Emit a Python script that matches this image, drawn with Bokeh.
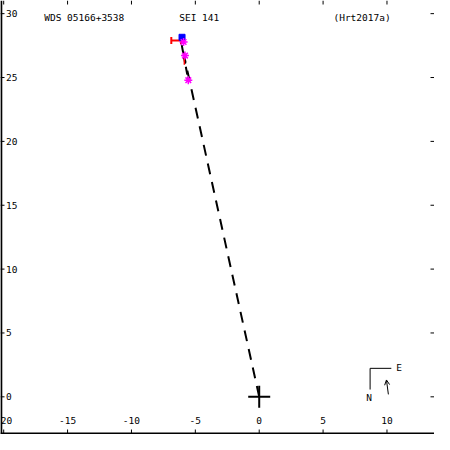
from bokeh.plotting import figure
from bokeh.models import Arrow, OpenHead
from bokeh.core.properties import value
from bokeh.embed import file_html
from bokeh.resources import INLINE

# ---- data ----
x_ticks = [-20, -15, -10, -5, 0, 5, 10]
x_tick_labels = ["-20", "-15", "-10", "-5", "0", "5", "10"]
y_ticks = [0, 5, 10, 15, 20, 25, 30]
y_tick_labels = ["0", "5", "10", "15", "20", "25", "30"]

# measured positions (arcsec)
ast_x = [-5.55, -5.81, -5.92]      # magenta asterisks
ast_y = [24.79, 26.72, 27.78]
sq_x = [-6.04]                      # blue square
sq_y = [28.15]
h_x = [-6.49]                       # red H
h_y = [27.89]
# red residual line
res_x0 = [-5.86]
res_y0 = [26.55]
res_x1 = [-5.86]
res_y1 = [26.0]
# line from primary to latest position
line_x = [0.0, -6.2]
line_y = [0.0, 28.15]
# orbit arc segment between observations
arc_x = [-6.15, -5.55]
arc_y = [28.0, 24.8]

title_left = "WDS 05166+3538"
title_mid = "SEI 141"
title_right = "(Hrt2017a)"

X0, X1 = -20.25, 13.72
Y0, Y1 = -2.95, 31.03
W = H = 434
pxx = (X1 - X0) / W
pxy = (Y1 - Y0) / H
FONT = value("DejaVu Sans Mono")
FS = "9.5px"

p = figure(width=W, height=H, x_range=(X0, X1), y_range=(Y0, Y1),
           output_backend="svg", toolbar_location=None,
           x_axis_location=None, y_axis_location=None, min_border=0)
p.grid.visible = False
p.outline_line_color = None
p.background_fill_color = "white"
p.border_fill_color = "white"

# frame lines (left, bottom)
p.segment(x0=[X0 + pxx * 0.8], y0=[Y0], x1=[X0 + pxx * 0.8], y1=[Y1],
          line_color="black", line_width=2)
p.segment(x0=[X0], y0=[Y0 + pxy * 1.0], x1=[X1], y1=[Y0 + pxy * 1.0],
          line_color="black", line_width=2)

tl = 4
# ticks
p.segment(x0=[X0] * len(y_ticks), y0=y_ticks, x1=[X0 + tl * pxx] * len(y_ticks), y1=y_ticks,
          line_color="black", line_width=1)
p.segment(x0=[X1] * len(y_ticks), y0=y_ticks, x1=[X1 - tl * pxx] * len(y_ticks), y1=y_ticks,
          line_color="black", line_width=1)
p.segment(x0=x_ticks, y0=[Y0] * len(x_ticks), x1=x_ticks, y1=[Y0 + (tl + 1) * pxy] * len(x_ticks),
          line_color="black", line_width=1)
p.segment(x0=x_ticks, y0=[Y1] * len(x_ticks), x1=x_ticks, y1=[Y1 - tl * pxy] * len(x_ticks),
          line_color="black", line_width=1)

# tick labels
p.text(x=[X0 + 5.5 * pxx] * len(y_ticks), y=y_ticks, text=y_tick_labels,
       text_font=FONT, text_font_size=FS, text_align="left", text_baseline="middle",
       text_color="black")
p.text(x=x_ticks, y=[Y0 + 14.5 * pxy] * len(x_ticks), text=x_tick_labels,
       text_font=FONT, text_font_size=FS, text_align="center", text_baseline="middle",
       text_color="black")

# titles
ty = Y1 - 16.5 * pxy
p.text(x=[-16.83], y=[ty], text=[title_left], text_font=FONT, text_font_size=FS,
       text_baseline="middle", text_color="black")
p.text(x=[-6.26], y=[ty], text=[title_mid], text_font=FONT, text_font_size=FS,
       text_baseline="middle", text_color="black")
p.text(x=[5.81], y=[ty], text=[title_right], text_font=FONT, text_font_size=FS,
       text_baseline="middle", text_color="black")

# dashed line from primary
p.line(line_x, line_y, line_color="black", line_width=2, line_dash="11 8")
p.line(arc_x, arc_y, line_color="black", line_width=2, line_dash="8 3", line_dash_offset=5)

# primary cross
p.scatter([0], [0], marker="cross", size=22, line_color="black", line_width=2)

# observations
p.segment(x0=res_x0, y0=res_y0, x1=res_x1, y1=res_y1, line_color="red", line_width=1.5)
hw, hh = 5 * pxx, 3.5 * pxy
p.segment(x0=[x - hw for x in h_x], y0=h_y, x1=[x + hw for x in h_x], y1=h_y,
          line_color="red", line_width=2)
p.segment(x0=[x - hw for x in h_x], y0=[y - hh for y in h_y], x1=[x - hw for x in h_x],
          y1=[y + hh for y in h_y], line_color="red", line_width=2)
p.segment(x0=[x + hw for x in h_x], y0=[y - hh for y in h_y], x1=[x + hw for x in h_x],
          y1=[y + hh for y in h_y], line_color="red", line_width=2)
p.scatter(sq_x, sq_y, marker="square", size=6, fill_color="blue", line_color="blue")
p.scatter(ast_x, ast_y, marker="asterisk", size=8, line_color="magenta", line_width=1.5)

# compass
cx, cy = 8.68, 2.23
p.line([cx, cx, 10.34], [0.57, cy, cy], line_color="black", line_width=1)
p.text(x=[10.72], y=[2.3], text=["E"], text_font=FONT, text_font_size=FS,
       text_baseline="middle", text_color="black")
p.text(x=[8.6], y=[-0.04], text=["N"], text_font=FONT, text_font_size=FS,
       text_align="center", text_baseline="middle", text_color="black")
p.add_layout(Arrow(end=OpenHead(size=5, line_width=1, line_color="black"),
                   x_start=10.11, y_start=0.19, x_end=9.96, y_end=1.32,
                   line_color="black", line_width=1))

open("out.html", "w").write(file_html(p, INLINE))
